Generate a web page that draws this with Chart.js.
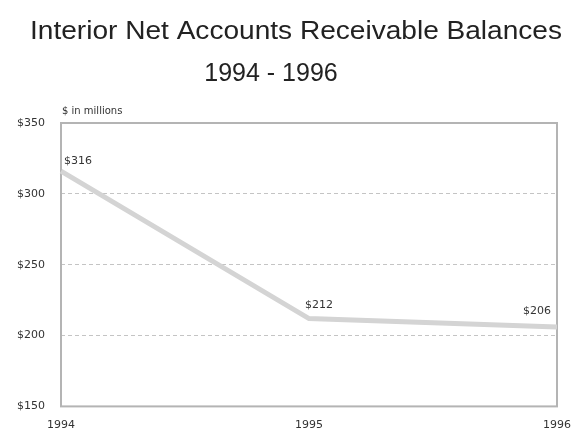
<!DOCTYPE html>
<html>
<head>
<meta charset="utf-8">
<script src="https://cdn.jsdelivr.net/npm/chart.js@4.4.1/dist/chart.umd.min.js"></script>
<style>
  html, body { margin: 0; padding: 0; background: #fff; }
  #wrap { width: 571px; height: 429px; }
</style>
</head>
<body>
<div id="wrap"><canvas id="grafico" width="571" height="429"></canvas></div>
<script>
// datos
const years = ["1994", "1995", "1996"];
const balances = [316, 212, 206];
const valueLabels = ["$316", "$212", "$206"];
const yTicks = [150, 200, 250, 300, 350];

const titleLine1 = "Interior Net Accounts Receivable Balances";
const titleLine2 = "1994 - 1996";
const unitsNote = "$ in millions";

// titulos, marco y etiquetas de valores
const decoracion = {
    id: "decoracion",
    beforeDatasetsDraw(chart) {
        const { ctx, chartArea: a } = chart;
        ctx.save();
        ctx.strokeStyle = "#b4b4b4";
        ctx.lineWidth = 2;
        ctx.strokeRect(a.left, a.top, a.right - a.left, a.bottom - a.top);
        ctx.restore();
    },
    afterDatasetsDraw(chart) {
        const { ctx, chartArea: a } = chart;
        ctx.save();
        ctx.fillStyle = "#222";
        ctx.textAlign = "center";
        ctx.textBaseline = "middle";
        ctx.font = "25px 'Liberation Sans', Arial, sans-serif";
        // la primera linea del titulo es mas ancha en el original
        const w = ctx.measureText(titleLine1).width;
        const sx = 532 / w;
        ctx.save();
        ctx.translate(296, 32);
        ctx.scale(sx, 1);
        ctx.fillText(titleLine1, 0, 0);
        ctx.restore();
        ctx.fillText(titleLine2, 271, 74);

        ctx.font = "10px 'DejaVu Sans', sans-serif";
        ctx.fillStyle = "#333";
        ctx.textAlign = "left";
        ctx.fillText(unitsNote, a.left + 1, a.top - 12);

        const meta = chart.getDatasetMeta(0);
        const offsets = [[3, -10, "left"], [-4, -13, "left"], [-6, -16, "right"]];
        ctx.font = "11px 'DejaVu Sans', sans-serif";
        meta.data.forEach((pt, i) => {
            const [dx, dy, al] = offsets[i];
            ctx.textAlign = al;
            ctx.fillText(valueLabels[i], pt.x + dx, pt.y + dy);
        });
        ctx.restore();
    }
};

new Chart(document.getElementById("grafico"), {
    type: "line",
    data: {
        labels: years,
        datasets: [{
            data: balances,
            borderColor: "#d4d4d4",
            borderWidth: 5,
            pointRadius: 0,
            tension: 0
        }]
    },
    options: {
        responsive: false,
        animation: false,
        layout: { padding: { top: 123, right: 14, left: 0, bottom: 0 } },
        plugins: {
            legend: { display: false },
            tooltip: { enabled: false }
        },
        scales: {
            x: {
                offset: false,
                grid: { display: false },
                border: { display: false },
                ticks: {
                    color: "#333",
                    font: { family: "'DejaVu Sans', sans-serif", size: 11 },
                    maxRotation: 0,
                    padding: 4
                },
                afterFit(scale) {
                    scale.height = 22;
                    scale.paddingRight = 0;
                    scale.paddingLeft = 0;
                }
            },
            y: {
                min: 150,
                max: 350,
                afterBuildTicks(scale) { scale.ticks = yTicks.map(v => ({ value: v })); },
                grid: {
                    color: ctx => (ctx.tick && (ctx.tick.value === 150 || ctx.tick.value === 350)) ? "rgba(0,0,0,0)" : "#c4c4c4",
                    lineWidth: 1,
                    drawTicks: false
                },
                border: { display: false, dash: [4, 3] },
                ticks: {
                    color: "#333",
                    font: { family: "'DejaVu Sans', sans-serif", size: 11 },
                    padding: 16,
                    callback: v => "$" + v
                },
                afterFit(scale) { scale.width = 61; }
            }
        }
    },
    plugins: [decoracion]
});
</script>
</body>
</html>
